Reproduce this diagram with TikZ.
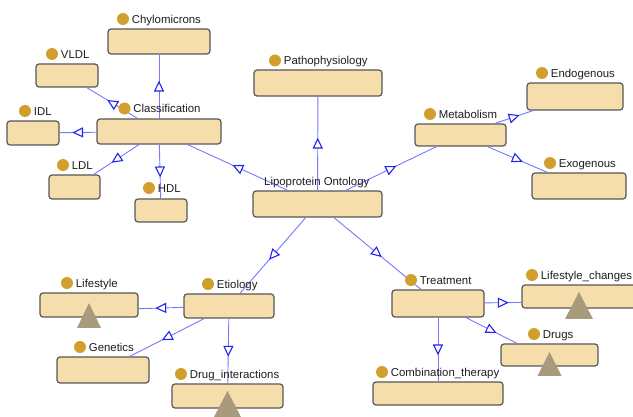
\documentclass[tikz,border=0pt]{standalone}
\usepackage{fontspec}
\setmainfont{Liberation Sans}
\usetikzlibrary{decorations.markings,fit}
\definecolor{boxfill}{RGB}{245,222,171}
\definecolor{boxline}{RGB}{88,88,88}
\definecolor{dotcol}{RGB}{210,158,44}
\definecolor{tricol}{RGB}{168,154,122}
\definecolor{edgeblue}{RGB}{120,120,255}
\definecolor{arrowblue}{RGB}{35,35,240}
\definecolor{txt}{RGB}{30,30,30}
\begin{document}
\begin{tikzpicture}[x=1pt,y=-1pt,
  box/.style={draw=boxline, fill=boxfill, line width=1.2pt, rounded corners=3pt, inner sep=0pt},
  dot/.style={circle, fill=dotcol, minimum size=12pt, inner sep=0pt},
  lbl/.style={anchor=base west, inner sep=0pt, text=txt, font=\fontsize{11.4}{13}\selectfont},
  tri/.style={fill=tricol},
  fitbox/.style={inner sep=0pt, draw=none},
  edge/.style={draw=edgeblue, line width=0.9pt, postaction={decorate},
    decoration={markings, mark=at position 0.5 with {\filldraw[fill=white, draw=arrowblue, line width=1.1pt, line join=miter] (4.5pt,0pt) -- (-4.5pt,4.3pt) -- (-4.5pt,-4.3pt) -- cycle;}}}
]
\useasboundingbox (0,0) rectangle (633,417);
\clip (0,0) rectangle (633,417);
\fill[white] (0,0) rectangle (633,417);

% boxes
\node[box, minimum width=102pt, minimum height=25pt] (chylo) at (159,41.5) {};
\node[box, minimum width=62pt, minimum height=23pt] (vldl) at (67,75.5) {};
\node[box, minimum width=124pt, minimum height=25pt] (cls) at (159,131.5) {};
\node[box, minimum width=52pt, minimum height=24pt] (idl) at (33,133) {};
\node[box, minimum width=51pt, minimum height=24pt] (ldl) at (74.5,187) {};
\node[box, minimum width=52pt, minimum height=23pt] (hdl) at (161,210.5) {};
\node[box, minimum width=128pt, minimum height=26pt] (patho) at (318,83) {};
\node[box, minimum width=129pt, minimum height=26pt] (lipo) at (317.5,204) {};
\node[box, minimum width=91pt, minimum height=22pt] (meta) at (460.5,135) {};
\node[box, minimum width=96pt, minimum height=27pt] (endo) at (575,96.5) {};
\node[box, minimum width=94pt, minimum height=26pt] (exo) at (579,186) {};
\node[box, minimum width=90pt, minimum height=24pt] (etio) at (229,306) {};
\node[box, minimum width=98pt, minimum height=24pt] (life) at (89,305) {};
\node[box, minimum width=92pt, minimum height=26pt] (gen) at (103,370) {};
\node[box, minimum width=111pt, minimum height=24pt] (drugi) at (227.5,396) {};
\node[box, minimum width=92pt, minimum height=27pt] (treat) at (438,303.5) {};
\node[box, minimum width=114pt, minimum height=23pt] (lifec) at (579,296.5) {};
\node[box, minimum width=97pt, minimum height=22pt] (drugs) at (549.5,355) {};
\node[box, minimum width=130pt, minimum height=23pt] (combo) at (438,393.5) {};

% instance triangles
\coordinate (lifeB) at (89,328);
\coordinate (lifecB) at (579,319);
\coordinate (drugsB) at (549.5,376);
\coordinate (drugiB) at (227.5,417);
\fill[tri] (89,303) -- (101,328) -- (77,328) -- cycle;
\fill[tri] (579,292) -- (593,319) -- (565,319) -- cycle;
\fill[tri] (549.5,352) -- (561.5,376) -- (537.5,376) -- cycle;
\fill[tri] (227.5,391) -- (241,417) -- (214,417) -- cycle;
\node[fitbox, fit=(life)(lifeB)] (lifeA) {};
\node[fitbox, fit=(lifec)(lifecB)] (lifecA) {};
\node[fitbox, fit=(drugs)(drugsB)] (drugsA) {};
\node[fitbox, fit=(drugi)(drugiB)] (drugiA) {};

% connectors
\draw[edge] (cls) -- (chylo);
\draw[edge] (cls) -- (vldl);
\draw[edge] (cls) -- (idl);
\draw[edge] (cls) -- (ldl);
\draw[edge] (cls) -- (hdl);
\draw[edge] (lipo) -- (cls);
\draw[edge] (lipo) -- (patho);
\draw[edge] (lipo) -- (meta);
\draw[edge] (meta) -- (endo);
\draw[edge] (meta) -- (exo);
\draw[edge] (lipo) -- (etio);
\draw[edge] (lipo) -- (treat);
\draw[edge] (etio) -- (lifeA);
\draw[edge] (etio) -- (gen);
\draw[edge] (etio) -- (drugiA);
\draw[edge] (treat) -- (lifecA);
\draw[edge] (treat) -- (drugsA);
\draw[edge] (treat) -- (combo);

% labels
\node[dot] (chyloD) at (123,19) {};
\node[lbl] (chyloT) at ([xshift=2.5pt,yshift=-4.3pt]chyloD.east) {Chylomicrons};
\node[dot] (vldlD) at (52,54) {};
\node[lbl] (vldlT) at ([xshift=2.5pt,yshift=-4.3pt]vldlD.east) {VLDL};
\node[dot] (clsD) at (124.5,108.5) {};
\node[lbl] (clsT) at ([xshift=2.5pt,yshift=-4.3pt]clsD.east) {Classification};
\node[dot] (idlD) at (25,111) {};
\node[lbl] (idlT) at ([xshift=2.5pt,yshift=-4.3pt]idlD.east) {IDL};
\node[dot] (ldlD) at (63,165) {};
\node[lbl] (ldlT) at ([xshift=2.5pt,yshift=-4.3pt]ldlD.east) {LDL};
\node[dot] (hdlD) at (149,188) {};
\node[lbl] (hdlT) at ([xshift=2.5pt,yshift=-4.3pt]hdlD.east) {HDL};
\node[dot] (pathoD) at (275,60.5) {};
\node[lbl] (pathoT) at ([xshift=2.5pt,yshift=-4.3pt]pathoD.east) {Pathophysiology};
\node[lbl] (lipoT) at (264,185.5) {Lipoprotein Ontology};
\node[dot] (metaD) at (430,114) {};
\node[lbl] (metaT) at ([xshift=2.5pt,yshift=-4.3pt]metaD.east) {Metabolism};
\node[dot] (endoD) at (542,73) {};
\node[lbl] (endoT) at ([xshift=2.5pt,yshift=-4.3pt]endoD.east) {Endogenous};
\node[dot] (exoD) at (550,163) {};
\node[lbl] (exoT) at ([xshift=2.5pt,yshift=-4.3pt]exoD.east) {Exogenous};
\node[dot] (etioD) at (208,284) {};
\node[lbl] (etioT) at ([xshift=2.5pt,yshift=-4.3pt]etioD.east) {Etiology};
\node[dot] (lifeD) at (67,283) {};
\node[lbl] (lifeT) at ([xshift=2.5pt,yshift=-4.3pt]lifeD.east) {Lifestyle};
\node[dot] (genD) at (80,347) {};
\node[lbl] (genT) at ([xshift=2.5pt,yshift=-4.3pt]genD.east) {Genetics};
\node[dot] (drugiD) at (181,374) {};
\node[lbl] (drugiT) at ([xshift=2.5pt,yshift=-4.3pt]drugiD.east) {Drug\_interactions};
\node[dot] (treatD) at (411,280) {};
\node[lbl] (treatT) at ([xshift=2.5pt,yshift=-4.3pt]treatD.east) {Treatment};
\node[dot] (lifecD) at (532,275) {};
\node[lbl] (lifecT) at ([xshift=2.5pt,yshift=-4.3pt]lifecD.east) {Lifestyle\_changes};
\node[dot] (drugsD) at (534,334) {};
\node[lbl] (drugsT) at ([xshift=2.5pt,yshift=-4.3pt]drugsD.east) {Drugs};
\node[dot] (comboD) at (382,372) {};
\node[lbl] (comboT) at ([xshift=2.5pt,yshift=-4.3pt]comboD.east) {Combination\_therapy};
\end{tikzpicture}
\end{document}
